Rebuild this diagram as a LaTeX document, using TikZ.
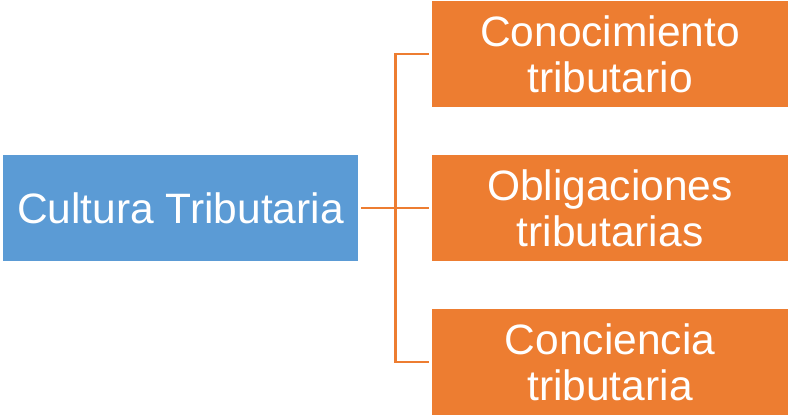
\documentclass[tikz,border=0pt]{standalone}
\usepackage{fontspec}
\setmainfont{Liberation Sans}
\definecolor{boxblue}{HTML}{5B9BD5}
\definecolor{boxorange}{HTML}{ED7D31}
\begin{document}
\begin{tikzpicture}[x=1pt,y=1pt,
  mainbox/.style={fill=boxblue, text=white, minimum width=355pt, minimum height=106pt, inner sep=0pt,
    font=\fontsize{42.5}{46}\selectfont, align=center},
  subbox/.style={fill=boxorange, text=white, minimum width=356pt, minimum height=106pt, inner sep=0pt,
    font=\fontsize{42.5}{46}\selectfont, align=center},
  conn/.style={draw=boxorange, line width=2.2pt}]
\useasboundingbox (0,0) rectangle (788,416);
\node[mainbox] (L) at (180.5,208) {Cultura Tributaria};
\node[subbox] (A) at (610,362) {Conocimiento\\tributario};
\node[subbox] (B) at (610,208) {Obligaciones\\tributarias};
\node[subbox] (C) at (610,54) {Conciencia\\tributaria};
\coordinate (ja) at (395.5,362);
\coordinate (jb) at (395.5,208);
\coordinate (jc) at (395.5,54);
\draw[conn] ([xshift=3pt]L.east) -- ([xshift=-3pt]B.west);
\draw[conn] ([xshift=-3pt]A.west) -- (ja) -- (jc) -- ([xshift=-3pt]C.west);
\end{tikzpicture}
\end{document}
